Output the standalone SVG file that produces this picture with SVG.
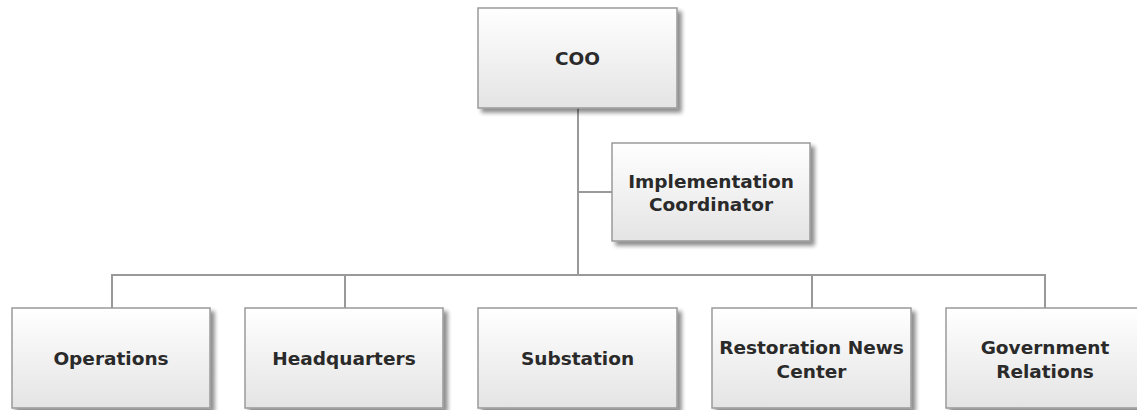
<svg xmlns="http://www.w3.org/2000/svg" width="1137" height="410" viewBox="0 0 1137 410">
<defs>
<linearGradient id="g" x1="0" y1="0" x2="0" y2="1">
<stop offset="0" stop-color="#ffffff"/>
<stop offset="1" stop-color="#e4e4e4"/>
</linearGradient>
<filter id="sh" x="-10%" y="-10%" width="130%" height="140%">
<feGaussianBlur in="SourceAlpha" stdDeviation="2"/>
<feOffset dx="4" dy="4" result="b"/>
<feComponentTransfer><feFuncA type="linear" slope="0.45"/></feComponentTransfer>
<feMerge><feMergeNode/><feMergeNode in="SourceGraphic"/></feMerge>
</filter>
</defs>
<style>
.box{fill:url(#g);stroke:#9a9a9a;stroke-width:1.5;filter:url(#sh)}
.t{font-family:"DejaVu Sans",Verdana,sans-serif;font-size:18.5px;font-weight:bold;fill:#2a2a2a;text-anchor:middle}
.c{fill:none;stroke:#999;stroke-width:2}
</style>
<rect width="1137" height="410" fill="#fff"/>
<g id="connectors">
<path class="c" d="M578 108 V275"/>
<path class="c" d="M578 192 H612"/>
<path class="c" d="M112 308 V275 H1045 V308"/>
<path class="c" d="M345 275 V308"/>
<path class="c" d="M812 275 V308"/>
</g>
<g id="coo"><rect class="box" x="478" y="8" width="199" height="100"/><text class="t" x="577.5" y="65">COO</text></g>
<g id="impl"><rect class="box" x="612" y="143" width="198" height="98"/><text class="t" x="711" y="188">Implementation</text><text class="t" x="711" y="211">Coordinator</text></g>
<g id="ops"><rect class="box" x="12" y="308" width="198" height="100"/><text class="t" x="111" y="365">Operations</text></g>
<g id="hq"><rect class="box" x="245" y="308" width="198" height="100"/><text class="t" x="344" y="365">Headquarters</text></g>
<g id="sub"><rect class="box" x="478" y="308" width="199" height="100"/><text class="t" x="577.5" y="365">Substation</text></g>
<g id="rnc"><rect class="box" x="712" y="308" width="199" height="100"/><text class="t" x="811.5" y="354">Restoration News</text><text class="t" x="811.5" y="378">Center</text></g>
<g id="gov"><rect class="box" x="946" y="308" width="199" height="100"/><text class="t" x="1045" y="354">Government</text><text class="t" x="1045" y="378">Relations</text></g>
</svg>
